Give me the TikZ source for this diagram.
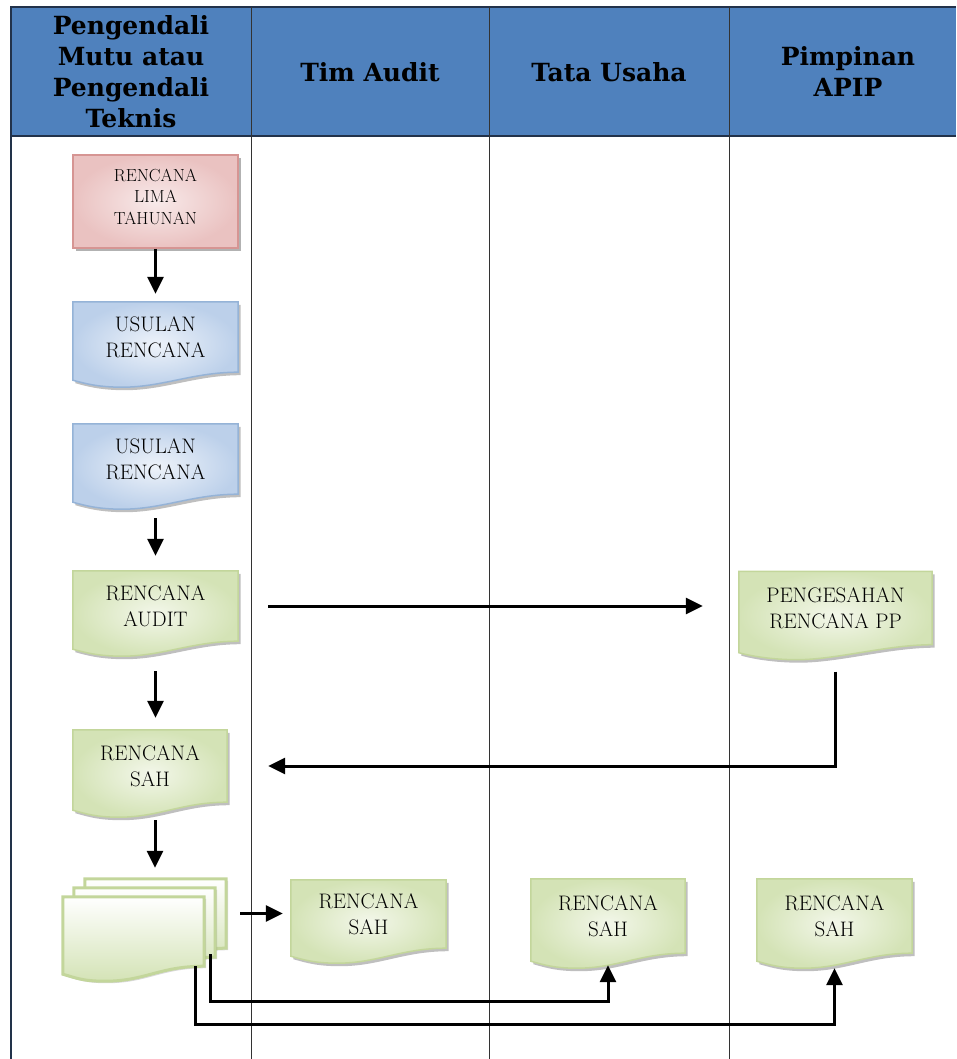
\documentclass[tikz,border=0pt]{standalone}
\usepackage{fontspec}
\newfontfamily\headfont{DejaVu Serif}
\usetikzlibrary{arrows.meta,calc,backgrounds,shadows}

\definecolor{headblue}{HTML}{4F81BD}
\definecolor{headline}{HTML}{22324A}
\definecolor{redfill}{HTML}{F8EAEA}
\definecolor{rededge}{HTML}{EAC2C1}
\definecolor{redline}{HTML}{D69593}
\definecolor{bluefill}{HTML}{EEF3FA}
\definecolor{blueedge}{HTML}{BCD0EA}
\definecolor{blueline}{HTML}{95B3D7}
\definecolor{greenfill}{HTML}{F3F7EA}
\definecolor{greenedge}{HTML}{D4E3B6}
\definecolor{greenline}{HTML}{C3D69B}

\tikzset{
  lanehead/.style={font=\headfont\bfseries\fontsize{25}{31}\selectfont, align=center},
  docbox/.style={minimum width=165pt, minimum height=70pt, inner sep=0pt, align=center,
    font=\fontsize{21}{26.5}\selectfont},
  multibox/.style={minimum width=141pt, minimum height=69pt, inner sep=0pt},
  redbox/.style={draw=redline, line width=1.5pt, inner color=redfill, outer color=rededge,
    minimum width=165pt, minimum height=93pt, inner sep=0pt,
    drop shadow={shadow xshift=3pt, shadow yshift=-3pt, fill=black, opacity=.3}},
  redtext/.style={font=\fontsize{17.5}{21.5}\selectfont, align=center, yshift=5pt},
  arr/.style={-{Triangle[length=17pt,width=16pt]}, line width=3pt}
}

\newcommand{\docpath}[2]{%
  \path[#2] (#1.north west) -- (#1.north east) -- (#1.south east)
    .. controls +(-45,0) and +(40,0) .. ($(#1.south west)!0.3!(#1.south east)+(0,15)$)
    .. controls +(-22,0) and +(14,4) .. ($(#1.south west)+(0,8)$) -- cycle;}
\newcommand{\docbg}[4]{%
  \begin{scope}[on background layer]
    \docpath{#1}{fill=black, opacity=.25, transform canvas={shift={(2.5pt,-3pt)}}}
    \docpath{#1}{inner color=#2, outer color=#3, draw=#4, line width=1.5pt}
  \end{scope}}

\begin{document}
\begin{tikzpicture}[x=1pt,y=-1pt]
    \useasboundingbox (0,0) rectangle (956,1059);
    \fill[headblue] (11,7) rectangle (956,136);
    \draw[headline, line width=1.2pt] (956,7) -- (11,7) -- (11,1059);
    \draw[headline, line width=1.2pt] (11,136) -- (956,136);
    \draw[black!80, line width=0.9pt] (251,7) -- (251,1059);
    \draw[black!80, line width=0.9pt] (489,7) -- (489,1059);
    \draw[black!80, line width=0.9pt] (729,7) -- (729,1059);

    \node[lanehead] (hmutu) at (131,72) {Pengendali\\Mutu atau\\Pengendali\\Teknis};
    \node[lanehead] (htim) at (370,72) {Tim Audit};
    \node[lanehead] (htu) at (609,72) {Tata Usaha};
    \node[lanehead] (hapip) at (848,72) {Pimpinan\\APIP};

    \node[redbox, label={[redtext]center:RENCANA\\LIMA\\TAHUNAN}] (rlima) at (155.5,201.5) {};
    \node[docbox] (usul1) at (155.5,337) {USULAN\\RENCANA};
    \node[docbox] (usul2) at (155.5,459) {USULAN\\RENCANA};
    \node[docbox] (raudit) at (155.5,606) {RENCANA\\AUDIT};
    \node[docbox, minimum width=193pt, minimum height=73pt] (sahkan) at (835.5,608) {PENGESAHAN\\RENCANA PP};
    \node[docbox, minimum width=154pt, minimum height=72pt] (rsah) at (150,766) {RENCANA\\SAH};
    \node[multibox] (mback) at (155.5,913.5) {};
    \node[multibox] (mmid) at (144.5,922.5) {};
    \node[multibox] (mfront) at (133.5,931.5) {};
    \node[docbox, minimum width=155pt, minimum height=68pt] (sahtim) at (368.5,914) {RENCANA\\SAH};
    \node[docbox, minimum width=154pt, minimum height=74pt] (sahtu) at (608,916) {RENCANA\\SAH};
    \node[docbox, minimum width=155pt, minimum height=74pt] (sahapip) at (834.5,916) {RENCANA\\SAH};

    \docbg{usul1}{bluefill}{blueedge}{blueline}
    \docbg{usul2}{bluefill}{blueedge}{blueline}
    \docbg{raudit}{greenfill}{greenedge}{greenline}
    \docbg{sahkan}{greenfill}{greenedge}{greenline}
    \docbg{rsah}{greenfill}{greenedge}{greenline}
    \docbg{sahtim}{greenfill}{greenedge}{greenline}
    \docbg{sahtu}{greenfill}{greenedge}{greenline}
    \docbg{sahapip}{greenfill}{greenedge}{greenline}
    \begin{scope}[on background layer]
    \foreach \m in {mback,mmid,mfront}{
      \docpath{\m}{fill=black, opacity=.15, transform canvas={shift={(2pt,-2pt)}}}
      \docpath{\m}{top color=white, bottom color=greenedge, draw=greenline, line width=3pt}
    }
    \end{scope}

    \coordinate (out1) at ($(mmid.south east)+(-5,-3)$);
    \coordinate (out2) at ($(mfront.south east)+(-9,0)$);

    \draw[arr, shorten >=8pt] (rlima.south) -- (usul1.north);
    \draw[arr, shorten <=24pt, shorten >=15pt] (usul2.south) -- (raudit.north);
    \draw[arr, shorten <=30pt, shorten >=12pt] (raudit.south) -- (rsah.north -| raudit.south);
    \draw[arr, shorten <=18pt, shorten >=11pt] ([xshift=5pt]rsah.south) -- ([xshift=5pt]rsah.south |- mback.north);
    \draw[arr, shorten <=30pt, shorten >=36pt] (raudit.east) -- (raudit.east -| sahkan.west);
    \draw[arr, shorten <=27pt, shorten >=41pt] (sahkan.south) |- (rsah.east);
    \draw[arr, shorten <=14pt, shorten >=8pt] (mback.east) -- (mback.east -| sahtim.west);
    \draw[arr, shorten >=12pt] (out1) -- ++(0,47) -| (sahtu.south);
    \draw[arr, shorten >=15pt] (out2) -- ++(0,58) -| (sahapip.south);
\end{tikzpicture}
\end{document}
